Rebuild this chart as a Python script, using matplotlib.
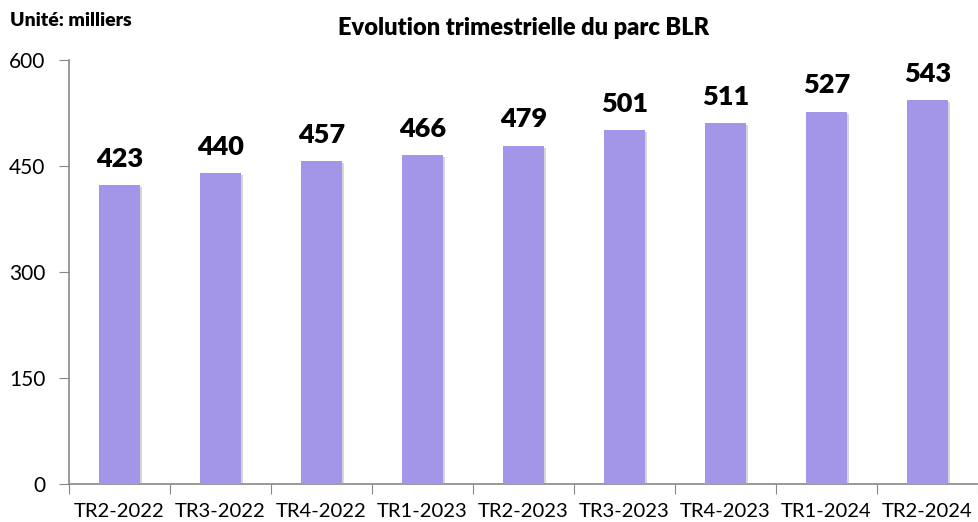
import matplotlib
matplotlib.use("Agg")
import matplotlib.pyplot as plt
import matplotlib.patheffects as pe

categories = ["TR2-2022", "TR3-2022", "TR4-2022", "TR1-2023", "TR2-2023",
              "TR3-2023", "TR4-2023", "TR1-2024", "TR2-2024"]
values = [423, 440, 457, 466, 479, 501, 511, 527, 543]
yticks = [0, 150, 300, 450, 600]

plt.rcParams['font.family'] = ['Lato', 'DejaVu Sans']

fig = plt.figure(figsize=(9.79, 5.22), dpi=100)
ax = fig.add_axes([69/979, 1-484/522, 909/979, 424/522])

x = list(range(len(categories)))
bars = ax.bar(x, values, width=0.4, color="#A396E8", zorder=3,
              path_effects=[pe.SimplePatchShadow(offset=(1.5, -1.5), shadow_rgbFace="#999999", alpha=0.4), pe.Normal()])
for xi, v in zip(x, values):
    ax.text(xi, v + 20, str(v), ha="center", va="bottom", fontsize=19.5, fontweight="heavy", color="black")

ax.set_xlim(-0.5, len(categories) - 0.5)
ax.set_ylim(0, 600)
ax.set_yticks(yticks)
ax.set_yticklabels([str(t) for t in yticks], fontsize=15)
ax.set_xticks([i - 0.5 for i in range(len(categories) + 1)])
ax.set_xticklabels([])
ax.set_xticks(x, minor=True)
ax.set_xticklabels(categories, minor=True, fontsize=14.6)
ax.tick_params(axis="x", which="minor", length=0, pad=14)
ax.tick_params(axis="x", which="major", length=7, color="#888888", direction="out")
ax.tick_params(axis="y", length=7, color="#888888", direction="out", pad=10)

for s in ["top", "right"]:
    ax.spines[s].set_visible(False)
for s in ["left", "bottom"]:
    ax.spines[s].set_color("#888888")
    ax.spines[s].set_linewidth(1.2)

fig.text(10/979, 1-20/522, "Unité: milliers", fontsize=14, fontweight="heavy", va="center", ha="left")
fig.text(524/979, 1-28/522, "Evolution trimestrielle du parc BLR", fontsize=17, fontweight="heavy", va="center", ha="center")

fig.savefig("out.png", dpi=100)
